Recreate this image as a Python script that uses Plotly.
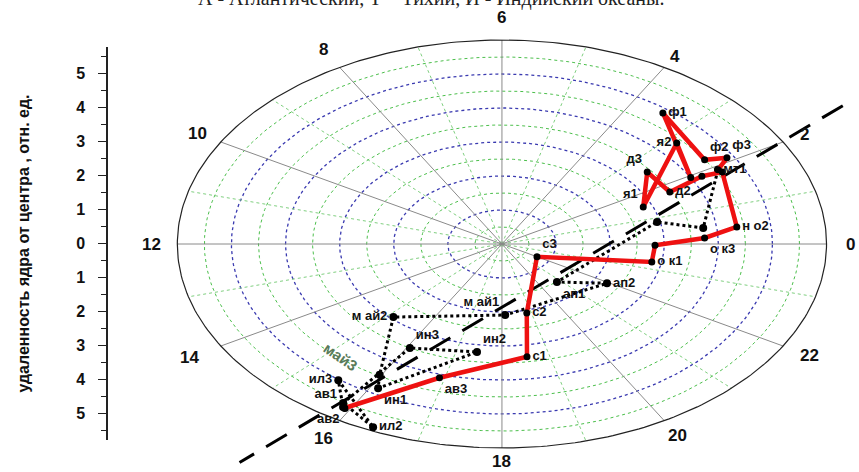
import numpy as np
import plotly.graph_objects as go

# ---------------- data (hour of clock-direction, distance in rel. units) ----------------
red_labels = ["ав2", "ав3", "с1", "с2", "с3", "о к1", "", "о к3", "н о2", "", "", "д2", "д3",
              "я1", "я2", "", "ф1", "ф2", "ф3", "мт1"]
red_hours = [15.93, 16.91, 18.53, 18.85, 21.98, 23.28, 23.95, 0.18, 0.44, 1.83, 1.89, 1.75, 2.55,
             1.51, 2.84, 1.95, 3.49, 2.23, 2.09, 1.91]
red_r = [5.63, 4.10, 3.35, 2.08, 0.75, 2.82, 2.83, 3.75, 4.37, 4.59, 4.20, 3.46, 3.42,
         2.83, 4.39, 4.00, 4.87, 4.49, 4.87, 4.55]
red_textpos = ["bottom left", "bottom right", "middle right", "middle right", "top right",
               "middle right", "middle right", "bottom right", "middle right", "middle right",
               "middle right", "middle right", "top left", "top left", "middle left",
               "middle right", "middle right", "top right", "top right", "middle right"]

blk_labels = ["", "", "", "ап1", "ап2", "м ай1", "м ай2", "", "ин1", "ин2", "ин3", "", "ил2",
              "ил3", "ав1", ""]
blk_hours = [1.91, 0.48, 0.85, 20.82, 21.95, 18.11, 15.13, 15.97, 16.11, 17.45, 16.06, 15.86,
             16.41, 15.53, 15.90, 15.93]
blk_r = [4.55, 3.75, 2.94, 1.51, 2.26, 2.09, 2.94, 4.46, 4.82, 3.21, 3.50, 5.52, 5.89, 5.02,
         5.62, 5.63]
blk_textpos = ["middle right", "middle right", "middle right", "bottom right", "middle right",
               "top left", "middle left", "middle right", "bottom right", "top right",
               "top right", "middle right", "middle right", "middle left", "top left",
               "middle right"]

hour_ticks = [0, 2, 4, 6, 8, 10, 12, 14, 16, 18, 20, 22]
hour_tick_labels = ["0", "2", "4", "6", "8", "10", "12", "14", "16", "18", "20", "22"]
hour_label_r = [6.45, 6.46, 6.38, 6.65, 6.59, 6.5, 6.47, 6.67, 6.6, 6.41, 6.5, 6.56]
ring_major = [1, 2, 3, 4, 5]
ring_minor = [0.5, 1.5, 2.5, 3.5, 4.5, 5.5]
r_outer = 6

axis_line_hours = [2.19, 15.53]
axis_line_r = [7.5, 8.05]

may3_hour, may3_r, may3_text = 15.2, 4.47, "май3"

y_tickvals = [-5, -4, -3, -2, -1, 0, 1, 2, 3, 4, 5]
y_ticktext = ["5", "4", "3", "2", "1", "0", "1", "2", "3", "4", "5"]

title_text = "А - Атлантический, Т – Тихий, И - Индийский океаны."
ytitle = "удаленность ядра от центра , отн. ед."


def to_xy(hours, r):
    a = np.asarray(hours, dtype=float) * np.pi / 12.0
    r = np.asarray(r, dtype=float)
    return r * np.cos(a), r * np.sin(a)


fig = go.Figure()

# grid rings
t = np.linspace(0, 24, 361)
for rr in ring_minor:
    x, y = to_xy(t, np.full_like(t, rr))
    fig.add_trace(go.Scatter(x=x, y=y, mode="lines", hoverinfo="skip",
                             line=dict(color="#4cbf4c", width=1, dash="dot")))
for rr in ring_major:
    x, y = to_xy(t, np.full_like(t, rr))
    fig.add_trace(go.Scatter(x=x, y=y, mode="lines", hoverinfo="skip",
                             line=dict(color="#3a3ab0", width=1.3, dash="dot")))

# spokes
for h in range(1, 24, 2):
    x, y = to_xy([h, h], [0, r_outer])
    fig.add_trace(go.Scatter(x=x, y=y, mode="lines", hoverinfo="skip",
                             line=dict(color="#7fcf7f", width=1, dash="dot")))
for h in hour_ticks:
    x, y = to_xy([h, h], [0, r_outer])
    fig.add_trace(go.Scatter(x=x, y=y, mode="lines", hoverinfo="skip",
                             line=dict(color="#8a8a8a", width=1)))

# outer circle
x, y = to_xy(t, np.full_like(t, r_outer))
fig.add_trace(go.Scatter(x=x, y=y, mode="lines", hoverinfo="skip",
                         line=dict(color="#222222", width=1.2)))

# hour labels
hx, hy = to_xy(hour_ticks, hour_label_r)
for xv, yv, lab in zip(hx, hy, hour_tick_labels):
    fig.add_annotation(x=float(xv), y=float(yv), text=lab, showarrow=False,
                       font=dict(family="Liberation Sans", size=17, color="#111111",
                                 weight="bold"))

# dashed main axis line
x, y = to_xy(axis_line_hours, axis_line_r)
fig.add_trace(go.Scatter(x=x, y=y, mode="lines",
                         line=dict(color="black", width=3, dash="24px,14px")))

# black dotted series
x, y = to_xy(blk_hours, blk_r)
fig.add_trace(go.Scatter(x=x, y=y, mode="lines+markers+text", text=blk_labels,
                         textposition=blk_textpos, cliponaxis=False,
                         line=dict(color="black", width=3, dash="dot"),
                         marker=dict(color="black", size=8),
                         textfont=dict(family="Liberation Sans", size=13, color="#111111",
                                       weight="bold")))

# red series
x, y = to_xy(red_hours, red_r)
fig.add_trace(go.Scatter(x=x, y=y, mode="lines+markers+text", text=red_labels,
                         textposition=red_textpos, cliponaxis=False,
                         line=dict(color="#ee1111", width=4.5),
                         marker=dict(color="black", size=7),
                         textfont=dict(family="Liberation Sans", size=13, color="#111111",
                                       weight="bold")))

# carrier of the visible left distance axis
fig.add_trace(go.Scatter(x=[0], y=[0], yaxis="y2", mode="markers", hoverinfo="skip",
                         marker=dict(opacity=0)))

mx, my = to_xy([may3_hour], [may3_r])
fig.add_annotation(x=float(mx[0]), y=float(my[0]), text=may3_text, showarrow=False,
                   textangle=35, font=dict(family="Liberation Sans", size=15,
                                          color="#5a7a5a", weight="bold"))

fig.add_annotation(xref="paper", yref="paper", x=0.431, y=1.0, text=title_text,
                   showarrow=False, xanchor="center", yanchor="bottom", yshift=-12,
                   font=dict(family="Liberation Serif", size=20, color="#222222"))

H = 472
fig.update_layout(
    width=859, height=H, autosize=False,
    margin=dict(l=107, r=0, t=0, b=0),
    plot_bgcolor="rgba(0,0,0,0)", paper_bgcolor="white",
    showlegend=False,
    xaxis=dict(visible=False, range=[-7.30, 6.60]),
    yaxis=dict(visible=False, range=[-228 / 34, 244 / 34]),
    yaxis2=dict(domain=[32 / H, 425 / H], anchor="free", position=0,
                range=[-5.78, 5.78], tickvals=y_tickvals, ticktext=y_ticktext,
                showgrid=False, zeroline=False, showline=True, linecolor="#222222",
                linewidth=1.5, ticks="outside", ticklen=8, tickcolor="#222222",
                ticklabelstandoff=10,
                minor=dict(dtick=0.5, ticks="outside", ticklen=5, tickcolor="#222222"),
                tickfont=dict(family="Liberation Sans", size=16, color="#111111",
                              weight="bold"),
                title=dict(text=ytitle, standoff=42,
                           font=dict(family="Liberation Sans", size=16, color="#111111",
                                     weight="bold"))),
)

fig.write_html("out.html", config={"displayModeBar": False},
               post_script="document.body.style.margin='0px';")
